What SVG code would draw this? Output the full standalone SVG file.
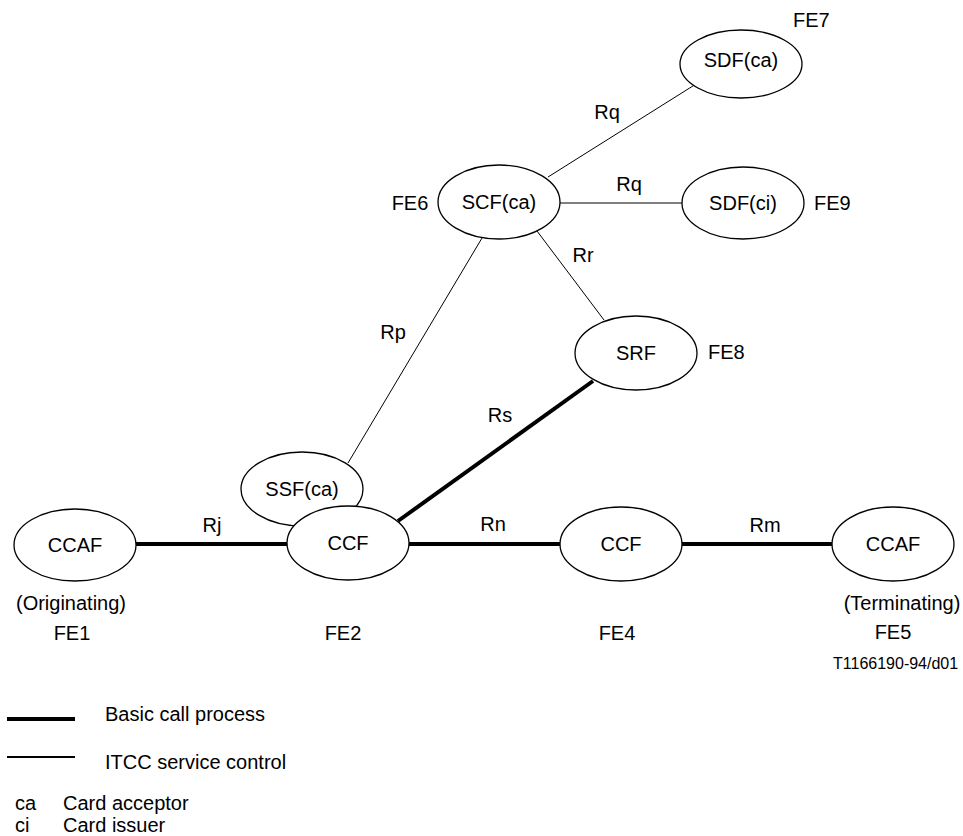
<svg xmlns="http://www.w3.org/2000/svg" width="963" height="836" viewBox="0 0 963 836">
<style>
text{font-family:"Liberation Sans",Arial,sans-serif;font-size:20px;fill:#000}
.c{text-anchor:middle}
.n ellipse{fill:#fff;stroke:#000;stroke-width:1.3}
.thick{stroke:#000;stroke-width:4;fill:none}
.thin{stroke:#000;stroke-width:1;fill:none}
.small{font-size:16px}
</style>
<rect width="963" height="836" fill="#fff"/>
<g id="connectors">
<line class="thick" x1="136" y1="544" x2="287" y2="544"/>
<line class="thick" x1="409" y1="544" x2="560" y2="544"/>
<line class="thick" x1="682" y1="544" x2="832" y2="544"/>
<line class="thick" x1="398" y1="521" x2="593" y2="381"/>
<line class="thin" x1="348" y1="463" x2="482" y2="238"/>
<line class="thin" x1="537" y1="231" x2="604" y2="320"/>
<line class="thin" x1="548" y1="177" x2="696" y2="84"/>
<line class="thin" x1="560" y1="203" x2="682" y2="203"/>
<text class="c" x="212" y="532">Rj</text>
<text class="c" x="493" y="531">Rn</text>
<text class="c" x="765" y="532">Rm</text>
<text class="c" x="500" y="422">Rs</text>
<text class="c" x="393" y="339">Rp</text>
<text class="c" x="583" y="262">Rr</text>
<text class="c" x="607" y="119">Rq</text>
<text class="c" x="629" y="191">Rq</text>
</g>
<g id="ccaf1" class="n">
<ellipse cx="75" cy="545" rx="61" ry="36"/>
<text class="c" x="75" y="552">CCAF</text>
<text class="c" x="71" y="610">(Originating)</text>
<text class="c" x="72" y="640">FE1</text>
</g>
<g id="ssf" class="n">
<ellipse cx="302" cy="489" rx="61" ry="37"/>
<text class="c" x="302" y="496">SSF(ca)</text>
</g>
<g id="ccf2" class="n">
<ellipse cx="348" cy="543" rx="61" ry="37"/>
<text class="c" x="348" y="550">CCF</text>
<text class="c" x="343" y="640">FE2</text>
</g>
<g id="ccf4" class="n">
<ellipse cx="621" cy="544" rx="61" ry="37"/>
<text class="c" x="621" y="551">CCF</text>
<text class="c" x="617" y="640">FE4</text>
</g>
<g id="ccaf5" class="n">
<ellipse cx="893" cy="544" rx="61" ry="37"/>
<text class="c" x="893" y="551">CCAF</text>
<text class="c" x="902" y="610">(Terminating)</text>
<text class="c" x="893" y="639">FE5</text>
</g>
<g id="scf" class="n">
<ellipse cx="499" cy="202" rx="61" ry="37"/>
<text class="c" x="499" y="209">SCF(ca)</text>
<text class="c" x="410" y="210">FE6</text>
</g>
<g id="sdfca" class="n">
<ellipse cx="741" cy="64" rx="61" ry="34"/>
<text class="c" x="741" y="67">SDF(ca)</text>
<text x="793" y="27">FE7</text>
</g>
<g id="sdfci" class="n">
<ellipse cx="743" cy="203" rx="61" ry="36"/>
<text class="c" x="743" y="210">SDF(ci)</text>
<text x="814" y="210">FE9</text>
</g>
<g id="srf" class="n">
<ellipse cx="636" cy="353" rx="61" ry="37"/>
<text class="c" x="636" y="360">SRF</text>
<text x="708" y="359">FE8</text>
</g>
<text class="small" x="833" y="669">T1166190-94/d01</text>
<g id="legend">
<line class="thick" x1="7" y1="719" x2="75" y2="719"/>
<text x="105" y="721">Basic call process</text>
<line stroke="#000" stroke-width="2" x1="7" y1="757" x2="75" y2="757"/>
<text x="105" y="769">ITCC service control</text>
<text x="15" y="810">ca</text>
<text x="63" y="810">Card acceptor</text>
<text x="15" y="832">ci</text>
<text x="63" y="832">Card issuer</text>
</g>
</svg>
